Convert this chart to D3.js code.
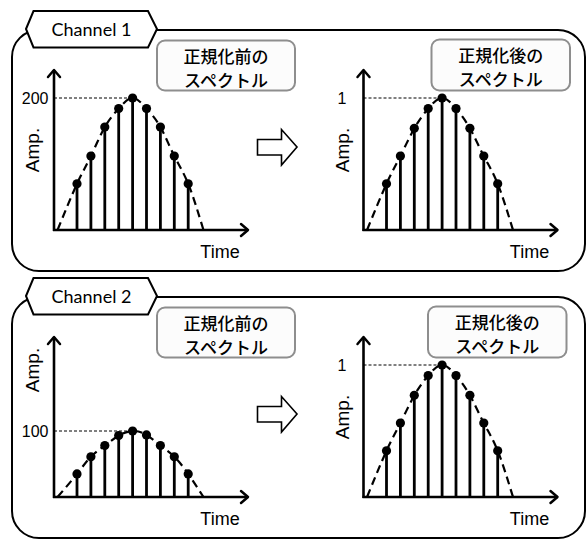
<!DOCTYPE html>
<html><head><meta charset="utf-8">
<script src="https://cdn.jsdelivr.net/npm/d3@7"></script>
<style>body{margin:0;background:#fff}svg{display:block}</style>
</head><body><svg id="c" width="587" height="539"></svg>
<script>
// ---- data ----
const times = [1, 2, 3, 4, 5, 6, 7, 8, 9];
const envelopeEnds = [-0.4, 10.1];
const ch1Before = [70, 112, 156, 184, 200, 184, 156, 112, 70];
const ch1After = [0.35, 0.56, 0.77, 0.92, 1, 0.92, 0.77, 0.56, 0.35];
const ch2Before = [35, 61, 78, 93, 100, 94, 78, 61, 35];
const ch2After = [0.35, 0.56, 0.77, 0.92, 1, 0.92, 0.77, 0.56, 0.35];
const channelNames = ["Channel 1", "Channel 2"];
const beforeLabel = ["正規化前の", "スペクトル"];
const afterLabel = ["正規化後の", "スペクトル"];
const beforeDomain = [0, 200];
const afterDomain = [0, 1];
const beforeTicks = [[200], [100]];
const afterTicks = [[1], [1]];
const xLabel = "Time";
const yLabel = "Amp.";

// ---- drawing ----
const svg = d3.select("#c");
const latin = "'Liberation Sans', Arimo, Arial, sans-serif";
const cjk = "'Noto Sans CJK JP', sans-serif";

const panels = [
  {dy: 0, before: ch1Before, after: ch1After, rightBoxX: 431.5, ampLeftY: 150},
  {dy: 267, before: ch2Before, after: ch2After, rightBoxX: 428, ampLeftY: 370 - 267}
];

function arrowHead(g, x, y, dir) {
  const s = 6;
  let d;
  if (dir === "up") d = `M${x - s},${y + s + 1}L${x},${y}L${x + s},${y + s + 1}`;
  else d = `M${x - s - 1},${y - s}L${x},${y}L${x - s - 1},${y + s}`;
  g.append("path").attr("d", d).attr("fill", "none").attr("stroke", "#000")
    .attr("stroke-width", 2.5).attr("stroke-linecap", "round").attr("stroke-linejoin", "round");
}

function drawChart(g, ox, oy, values, domain, ticks, pad, ampX, ampY) {
  const x = d3.scaleLinear().domain([0, 10]).range([ox + 9.1, ox + 148.1]);
  const y = d3.scaleLinear().domain(domain).range([oy, oy - 132]);

  // envelope (dashed)
  const env = [[envelopeEnds[0], 0], ...times.map((t, i) => [t, values[i]]), [envelopeEnds[1], 0]];
  g.append("path").attr("d", d3.line().x(d => x(d[0])).y(d => y(d[1])).curve(d3.curveNatural)(env))
    .attr("fill", "none").attr("stroke", "#000").attr("stroke-width", 2.2).attr("stroke-dasharray", "8,5");

  // peak reference dotted line
  const iMax = values.indexOf(d3.max(values));
  g.append("line").attr("x1", ox).attr("x2", x(times[iMax])).attr("y1", y(ticks[0])).attr("y2", y(ticks[0]))
    .attr("stroke", "#000").attr("stroke-width", 1).attr("stroke-dasharray", "3,2");

  // stems
  g.selectAll(null).data(times).join("line")
    .attr("x1", t => x(t)).attr("x2", t => x(t))
    .attr("y1", y(0)).attr("y2", (t, i) => y(values[i]))
    .attr("stroke", "#000").attr("stroke-width", 2.8);
  g.selectAll(null).data(times).join("circle")
    .attr("cx", t => x(t)).attr("cy", (t, i) => y(values[i])).attr("r", 4.6).attr("fill", "#000");

  // axes with arrows
  g.append("line").attr("x1", ox).attr("x2", ox).attr("y1", oy + 1).attr("y2", oy - 160)
    .attr("stroke", "#000").attr("stroke-width", 2.6);
  arrowHead(g, ox, oy - 160, "up");
  g.append("line").attr("x1", ox - 1).attr("x2", ox + 194).attr("y1", oy).attr("y2", oy)
    .attr("stroke", "#000").attr("stroke-width", 2.6);
  arrowHead(g, ox + 194, oy, "right");

  // tick label via d3 axis
  const ax = g.append("g").attr("transform", `translate(${ox},0)`)
    .call(d3.axisLeft(y).tickValues(ticks).tickSize(0).tickPadding(pad).tickFormat(d3.format("d")));
  ax.select(".domain").remove();
  ax.attr("font-family", null).attr("font-size", null);
  ax.selectAll("text").style("font-family", latin).style("font-size", "16px").attr("fill", "#000");

  // axis titles
  g.append("text").attr("x", ox + 166).attr("y", oy + 28).attr("text-anchor", "middle")
    .style("font-family", latin).style("font-size", "18px").text(xLabel);
  g.append("text").attr("transform", `translate(${ampX},${ampY}) rotate(-90)`).attr("text-anchor", "middle")
    .style("font-family", latin).style("font-size", "19px").text(yLabel);
}

function labelBox(g, x0, y0, w, h, lines) {
  g.append("rect").attr("x", x0).attr("y", y0).attr("width", w).attr("height", h).attr("rx", 8)
    .attr("fill", "#fcfcfc").attr("stroke", "#8e8e8e").attr("stroke-width", 2);
  lines.forEach((s, i) => {
    g.append("text").attr("text-anchor", "middle")
      .style("font-family", cjk).style("font-size", "17px").style("font-weight", 500).attr("fill", "#000")
      .attr("x", x0 + w / 2).attr("y", y0 + 22 + i * 24.5).text(s);
  });
}

panels.forEach((p, k) => {
  const g = svg.append("g").attr("transform", `translate(0,${p.dy})`);
  // frame
  g.append("rect").attr("x", 12).attr("y", 30).attr("width", 573).attr("height", 241).attr("rx", 27)
    .attr("fill", "#fff").attr("stroke", "#000").attr("stroke-width", 2);
  // tab
  g.append("path").attr("d", "M26,29L33.5,11L148,11L157,29L148,47.5L33.5,47.5Z")
    .attr("fill", "#fff").attr("stroke", "#000").attr("stroke-width", 2);
  g.append("text").attr("x", 91.5).attr("y", 35.5).attr("text-anchor", "middle")
    .style("font-family", "Lato, 'Open Sans', sans-serif").style("font-size", "18px").text(channelNames[k]);

  drawChart(g, 54, 230, p.before, beforeDomain, beforeTicks[k], 5.5, 39, p.ampLeftY);
  drawChart(g, 363.5, 230, p.after, afterDomain, afterTicks[k], 17, 349, 150);

  labelBox(g, 157, 40.5, 138, 50, beforeLabel);
  labelBox(g, p.rightBoxX, 39.5, 138.5, 51, afterLabel);

  // block arrow
  g.append("path").attr("d", "M257.5,139.5L281.5,139.5L281.5,129.5L297,147L281.5,165L281.5,155L257.5,155Z")
    .attr("fill", "#fff").attr("stroke", "#000").attr("stroke-width", 1.6).attr("stroke-linejoin", "miter");
});
</script>
</body></html>
